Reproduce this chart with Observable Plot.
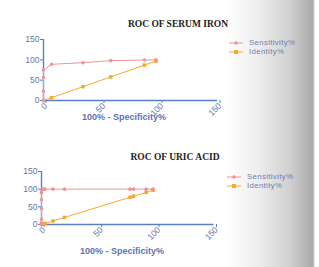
<!DOCTYPE html>
<html><head><meta charset="utf-8">
<script src="https://cdn.jsdelivr.net/npm/d3@7"></script>
<script src="https://cdn.jsdelivr.net/npm/@observablehq/plot@0.6"></script>
<style>
html,body{margin:0;padding:0;}
body{width:319px;height:267px;position:relative;overflow:hidden;
background:linear-gradient(to right,#ffffff 0px,#ffffff 225px,#eeeeee 258px,#d0d0d0 290px,#a9a9a9 313px,#ffffff 315px);}
.title{position:absolute;font-family:"Liberation Serif","DejaVu Serif",serif;font-weight:bold;font-size:9.5px;color:#222;white-space:nowrap;transform:translateX(-50%);line-height:10px;}
.xlabel{position:absolute;font-family:"Liberation Sans",Arial,sans-serif;font-weight:bold;font-size:9px;color:#5a74b4;white-space:nowrap;transform:translateX(-50%);line-height:10px;}
.chart{position:absolute;}
.legend{position:absolute;font-family:"Liberation Sans",Arial,sans-serif;font-size:7.8px;letter-spacing:0.35px;color:#6b7fae;line-height:8px;}
.legend div{display:flex;align-items:center;height:8.5px;}
.legend svg{margin-right:6px;}
</style></head>
<body>
<script>
const sensColor = "#f29393";
const identColor = "#f5aa2c";
const axisColor = "#5a80c4";
const tickColor = "#6276a8";

const ironSensX = [0, 0, 0, 0, 7, 34, 58, 87, 97];
const ironSensY = [0, 23, 57, 75, 89, 93, 98, 99.5, 100];
const ironIdentX = [0, 7, 34, 58, 87, 97];
const ironIdentY = [0, 7, 34, 58, 87, 97];

const uricSensX = [0, 0, 0, 0, 0, 0, 0, 1, 3, 10, 20, 77, 80, 91, 97];
const uricSensY = [0, 5, 15, 45, 70, 90, 97, 100, 100, 100, 100, 100, 100, 100, 100];
const uricIdentX = [0, 1, 3, 10, 20, 77, 80, 91, 97];
const uricIdentY = [0, 1, 3, 10, 20, 77, 80, 91, 97];

const ticks = [0, 50, 100, 150];
const xLabel = "100% - Specificity%";
const seriesNames = ["Sensitivity%", "Identity%"];

function zip(xs, ys){ return xs.map((x,i)=>({x, y: ys[i]})); }

function chart(sx, sy, ix, iy, o){
  const sens = zip(sx, sy), ident = zip(ix, iy);
  return Plot.plot({
    width: o.width, height: o.height,
    marginLeft: o.ml, marginRight: o.mr, marginTop: o.mt, marginBottom: o.mb,
    style: {background: "transparent", fontFamily: "Liberation Sans, Arial, sans-serif", fontSize: "8.5px", overflow: "visible"},
    x: {domain: [0, 150]},
    y: {domain: [0, 150]},
    marks: [
      Plot.axisY({ticks, tickSize: 3, tickPadding: 1, stroke: axisColor, color: tickColor, label: null, fontSize: 8.5}),
      Plot.axisX({ticks, tickSize: 3, tickPadding: 1, tickRotate: -45, dx: 2.5, stroke: axisColor, color: tickColor, fontSize: 8.5, label: null}),
      Plot.ruleX([0], {stroke: axisColor, strokeWidth: 1.4}),
      Plot.ruleY([0], {stroke: axisColor, strokeWidth: 1.4}),
      Plot.line(ident, {x: "x", y: "y", stroke: identColor, strokeWidth: 1}),
      Plot.dot(ident, {x: "x", y: "y", fill: identColor, symbol: "square", r: 2}),
      Plot.line(sens, {x: "x", y: "y", stroke: sensColor, strokeWidth: 1}),
      Plot.dot(sens, {x: "x", y: "y", fill: sensColor, symbol: "circle", r: 1.8})
    ]
  });
}

function place(el, left, top){ el.classList.add("chart"); el.style.left = left + "px"; el.style.top = top + "px"; document.body.appendChild(el); }

function text(cls, t, cx, top){
  const d = document.createElement("div"); d.className = cls; d.textContent = t;
  d.style.left = cx + "px"; d.style.top = top + "px"; document.body.appendChild(d);
}

function legend(left, top){
  const d = document.createElement("div"); d.className = "legend";
  d.style.left = left + "px"; d.style.top = top + "px";
  const colors = [sensColor, identColor];
  seriesNames.forEach((n,i)=>{
    const row = document.createElement("div");
    const shape = i === 0 ? `<circle cx="7" cy="4" r="1.8" fill="${colors[i]}"/>` : `<rect x="5" y="2" width="4" height="4" fill="${colors[i]}"/>`;
    row.innerHTML = `<svg width="14" height="8"><line x1="0" x2="14" y1="4" y2="4" stroke="${colors[i]}" stroke-width="1"/>${shape}</svg><span>${n}</span>`;
    d.appendChild(row);
  });
  document.body.appendChild(d);
}

text("title", "ROC OF SERUM IRON", 178, 19);
place(chart(ironSensX, ironSensY, ironIdentX, ironIdentY, {width: 230, height: 100, ml: 43, mr: 13, mt: 9, mb: 30}), 0, 30);
text("xlabel", xLabel, 124, 112);
legend(229, 39);

text("title", "ROC OF URIC ACID", 175, 152);
place(chart(uricSensX, uricSensY, uricIdentX, uricIdentY, {width: 230, height: 94, ml: 41, mr: 16.5, mt: 9, mb: 32}), 0, 162);
text("xlabel", xLabel, 122, 246);
legend(227, 173);
</script>
</body></html>
